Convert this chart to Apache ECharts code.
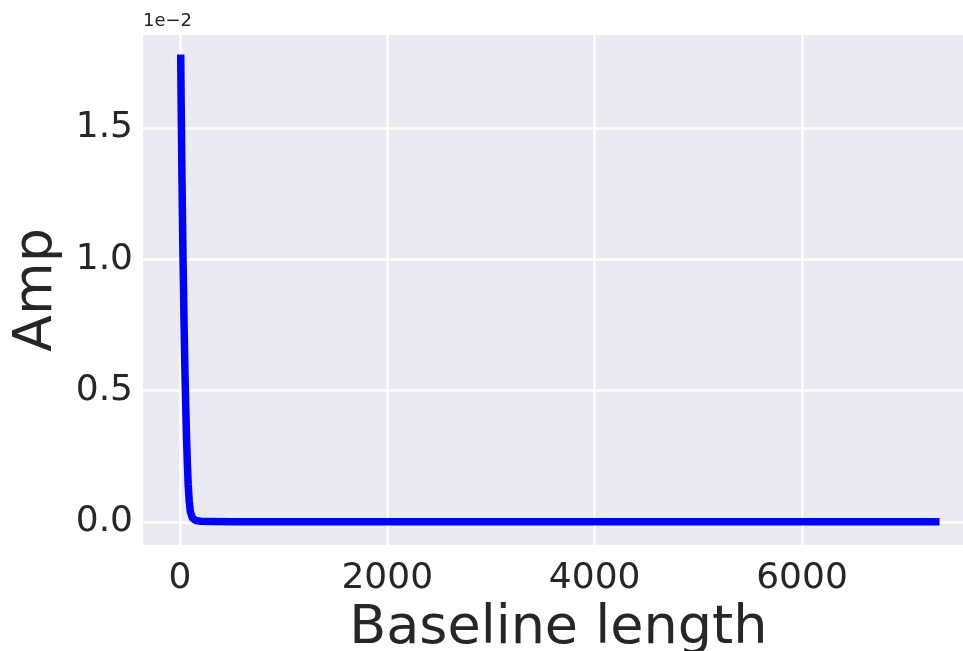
<!DOCTYPE html>
<html>
<head>
<meta charset="utf-8">
<script src="https://cdn.jsdelivr.net/npm/echarts@6/dist/echarts.min.js"></script>
<style>
  html, body { margin: 0; padding: 0; background: #ffffff; }
  #chart { width: 963px; height: 651px; }
</style>
</head>
<body>
<div id="chart"></div>
<script>
// Amplitude against baseline length
const baselineLength = [8, 12, 16, 20, 25, 30, 35, 40, 48, 56, 64, 72, 80, 90, 100, 120, 150, 200, 300, 500, 1000, 2000, 3000, 4000, 5000, 6000, 7000, 7290];
const amp = [0.01765, 0.0160, 0.0145, 0.0130, 0.0115, 0.0100, 0.0088, 0.0075, 0.0058, 0.0044, 0.0032, 0.0022, 0.0014, 0.0008, 0.0004, 0.00015, 0.00005, 0.00002, 0.00001, 0, 0, 0, 0, 0, 0, 0, 0, 0];
const xTicks = [0, 2000, 4000, 6000];
const yTicks = [0, 0.005, 0.01, 0.015];

const xMin = -356, xMax = 7654;
const yMin = -0.000884, yMax = 0.018535;

const points = baselineLength.map((x, i) => [x, amp[i]]);
const textColor = '#262626';
const font = 'DejaVu Sans';

const chart = echarts.init(document.getElementById('chart'), null, { renderer: 'canvas' });
chart.setOption({
  backgroundColor: '#ffffff',
  animation: false,
  grid: {
    left: 143, top: 35, right: -10.5, bottom: 106,
    containLabel: false, outerBoundsMode: 'none',
    backgroundColor: '#eaeaf2', show: true, borderWidth: 0
  },
  xAxis: {
    type: 'value',
    min: xMin, max: xMax,
    name: 'Baseline length',
    nameLocation: 'middle',
    nameGap: 52,
    nameTextStyle: { fontFamily: font, fontSize: 54, color: textColor },
    axisLine: { show: false },
    axisTick: { show: false, customValues: xTicks },
    axisLabel: {
      customValues: xTicks, fontFamily: font, fontSize: 36, color: textColor, margin: 16,
      formatter: v => String(v)
    },
    splitLine: { show: true, lineStyle: { color: '#ffffff', width: 2.5 } }
  },
  yAxis: {
    type: 'value',
    min: yMin, max: yMax,
    name: 'Amp',
    nameLocation: 'middle',
    nameGap: 79,
    nameRotate: 90,
    nameTextStyle: { fontFamily: font, fontSize: 54, color: textColor },
    axisLine: { show: false },
    axisTick: { show: false, customValues: yTicks },
    axisLabel: {
      customValues: yTicks, fontFamily: font, fontSize: 36, color: textColor, margin: 10,
      formatter: v => (v * 100).toFixed(1)
    },
    splitLine: { show: true, lineStyle: { color: '#ffffff', width: 2.5 } }
  },
  graphic: [{
    type: 'text', left: 143, top: 12,
    style: { text: '1e\u22122', fontFamily: font, fontSize: 18, fill: textColor }
  }],
  series: [{
    type: 'line',
    data: points,
    showSymbol: false,
    smooth: false,
    lineStyle: { color: '#0000ff', width: 7.5, cap: 'square', join: 'round' }
  }]
});
</script>
</body>
</html>
